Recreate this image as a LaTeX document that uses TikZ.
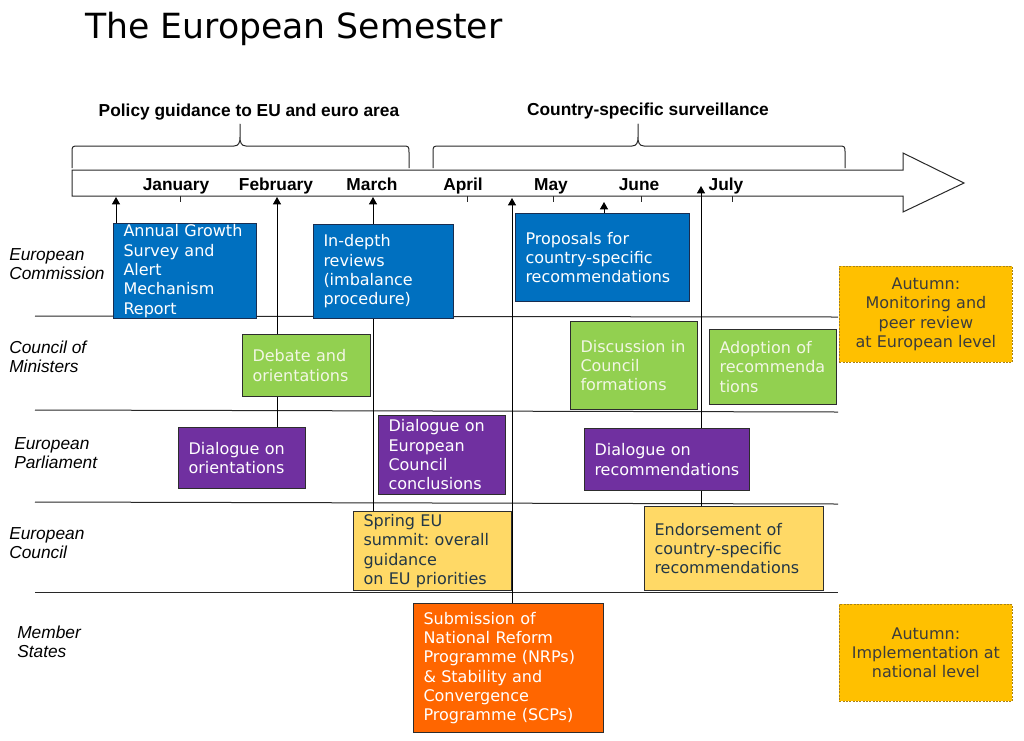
\documentclass[tikz,border=0pt]{standalone}
\usepackage{fontspec}
\setmainfont{Liberation Sans}
\newfontfamily\verd{DejaVu Sans}
\usetikzlibrary{arrows.meta}
\pgfdeclarelayer{background}
\pgfsetlayers{background,main}

\definecolor{ecblue}{RGB}{0,112,192}
\definecolor{blueline}{RGB}{25,45,80}
\definecolor{ecgreen}{RGB}{146,208,80}
\definecolor{ecpurple}{RGB}{112,48,160}
\definecolor{ecyellow}{RGB}{255,217,102}
\definecolor{ecorange}{RGB}{255,102,0}
\definecolor{ecgold}{RGB}{255,192,0}
\definecolor{greentext}{RGB}{242,246,228}
\definecolor{yellowtext}{RGB}{35,55,70}
\definecolor{goldtext}{RGB}{60,60,60}
\definecolor{boxline}{RGB}{45,45,45}
\definecolor{goldline}{RGB}{170,130,20}
\definecolor{laneline}{RGB}{40,40,40}

\newcommand\SemBox[7]{%
  \pgfmathsetmacro\sembw{#5*0.75}%
  \pgfmathsetmacro\sembh{#6*0.75}%
  \pgfmathsetmacro\semtw{(#5-20)*0.75}%
  \node[#2, minimum width=\sembw pt, minimum height=\sembh pt] (#1) at (#3,#4) {#7};}

\tikzset{
  boxbase/.style={rectangle, anchor=north west, inner ysep=0pt, line width=0.75pt,
    font=\verd\fontsize{12}{14.5}\selectfont,
    execute at begin node={\hyphenpenalty=10000\exhyphenpenalty=10000}},
  lbox/.style={boxbase, text width=\semtw pt, inner xsep=7.5pt, align=left},
  cbox/.style={boxbase, inner xsep=2pt, align=center},
  bluebox/.style={lbox, fill=ecblue, draw=blueline, text=white},
  greenbox/.style={lbox, fill=ecgreen, draw=boxline, text=greentext},
  purplebox/.style={lbox, fill=ecpurple, draw=boxline, text=white},
  yellowbox/.style={lbox, fill=ecyellow, draw=boxline, text=yellowtext},
  orangebox/.style={lbox, fill=ecorange, draw=boxline, text=white},
  goldbox/.style={cbox, fill=ecgold, draw=goldline, dash pattern=on 1.5pt off 1pt, line width=0.6pt, text=goldtext},
  lane/.style={anchor=west, align=left, inner sep=0pt, font=\itshape\fontsize{13}{14.3}\selectfont},
  month/.style={anchor=base, inner sep=0pt, font=\bfseries\fontsize{13}{15}\selectfont},
  head/.style={anchor=base, inner sep=0pt, font=\bfseries\fontsize{13}{15}\selectfont},
  arr/.style={-{Triangle[length=5.5pt,width=6pt]}, line width=0.75pt, draw=black},
  laneln/.style={line width=0.75pt, draw=laneline},
  bracestyle/.style={line width=0.75pt, draw=laneline, line join=round},
}

\begin{document}
\begin{tikzpicture}[x=0.75pt, y=-0.75pt]
\useasboundingbox (0,0) rectangle (1024,740);

% title and headings
\node[anchor=base west, inner sep=0pt, font=\verd\fontsize{26}{30}\selectfont] (title) at (85,38) {The European Semester};
\node[head] (h1) at (249,116) {Policy guidance to EU and euro area};
\node[head] (h2) at (648,115) {Country-specific surveillance};

% months
\node[month] (jan) at (176,190) {January};
\node[month] (feb) at (276,190) {February};
\node[month] (mar) at (372,190) {March};
\node[month] (apr) at (463,190) {April};
\node[month] (may) at (551,190) {May};
\node[month] (jun) at (639,190) {June};
\node[month] (jul) at (726,190) {July};

% arrow tip coordinates on the timeline
\coordinate (tJan) at (116,197);
\coordinate (tFeb) at (277,197);
\coordinate (tMar) at (373,197);
\coordinate (tApr) at (512,198);
\coordinate (tMay) at (604,202);
\coordinate (tJul) at (701,186);

% lane labels
\node[lane] (lEC) at (9,264.5) {European\\Commission};
\node[lane] (lCM) at (9,356.5) {Council of\\Ministers};
\node[lane] (lEP) at (14,453.5) {European\\Parliament};
\node[lane] (lECo) at (9,543.5) {European\\Council};
\node[lane] (lMS) at (17,641.5) {Member\\States};

% boxes
\SemBox{ags}{bluebox}{113}{223}{143}{95}{Annual~Growth\\Survey~and\\Alert\\Mechanism\\Report}
\SemBox{idr}{bluebox}{313}{224}{140}{94}{In-depth\\reviews\\(imbalance\\procedure)}
\SemBox{prop}{bluebox}{515}{213}{174}{88}{Proposals~for\\country-specific\\recommendations}
\SemBox{deb}{greenbox}{242}{334}{128}{62}{Debate~and\\orientations}
\SemBox{disc}{greenbox}{570}{321}{127}{88}{Discussion~in\\Council\\formations}
\SemBox{adop}{greenbox}{709}{329}{127}{75}{Adoption~of\\recommenda\\tions}
\SemBox{dor}{purplebox}{178}{427}{127}{61}{Dialogue~on\\orientations}
\SemBox{dec}{purplebox}{378}{415}{127}{79}{Dialogue~on\\European\\Council\\conclusions}
\SemBox{drec}{purplebox}{584}{428}{165}{62}{Dialogue~on\\recommendations}
\SemBox{spring}{yellowbox}{353}{511}{158}{79}{Spring~EU\\summit:~overall\\guidance\\on~EU~priorities}
\SemBox{endo}{yellowbox}{644}{506}{179}{84}{Endorsement~of\\country-specific\\recommendations}
\SemBox{nrp}{orangebox}{413}{603}{190}{129}{Submission~of\\National~Reform\\Programme~(NRPs)\\\&~Stability~and\\Convergence\\Programme~(SCPs)}
\SemBox{aut1}{goldbox}{839}{266}{173}{96}{Autumn:\\Monitoring~and\\peer~review\\at~European~level}
\SemBox{aut2}{goldbox}{839}{604}{173}{97}{Autumn:\\Implementation~at\\national~level}

\begin{pgfonlayer}{background}
  \fill[white] (0,0) rectangle (1024,740);
  % braces
  \draw[bracestyle] (72,168) -- (72,153) .. controls (72,146) .. (79,146) -- (234,146)
     .. controls (239,146) and (240,142) .. (240,137) -- (240,124)
     -- (240,137) .. controls (240,142) and (241,146) .. (246,146) -- (402,146)
     .. controls (409,146) .. (409,153) -- (409,168);
  \draw[bracestyle] (433,168) -- (433,153) .. controls (433,146) .. (440,146) -- (632,146)
     .. controls (637,146) and (638,142) .. (638,137) -- (638,124)
     -- (638,137) .. controls (638,142) and (639,146) .. (644,146) -- (838,146)
     .. controls (845,146) .. (845,153) -- (845,168);
  % timeline arrow
  \draw[line width=0.75pt, draw=laneline, fill=white, line join=miter]
     (72,170) -- (903,170) -- (903,153) -- (964,183) -- (903,212) -- (903,196) -- (72,196) -- cycle;
  % ticks
  \foreach \tx in {180,467,553,641,732} \draw[line width=0.75pt, draw=laneline] (\tx,196) -- (\tx,202);
  % lane lines
  \draw[laneln] (35,316) -- (838,317);
  \draw[laneln] (35,410) -- (838,412);
  \draw[laneln] (35,502) -- (838,504);
  \draw[laneln] (35,592) -- (838,592);
  % connectors
  \draw[arr] (tJan |- ags.north) -- (tJan);
  \draw[arr] (tFeb |- dor.north) -- (tFeb);
  \draw[arr] (tMar |- spring.north) -- (tMar);
  \draw[arr] (tApr |- nrp.north) -- (tApr);
  \draw[arr] (tMay |- prop.north) -- (tMay);
  \draw[arr] (tJul |- endo.north) -- (tJul);
\end{pgfonlayer}
\end{tikzpicture}
\end{document}
